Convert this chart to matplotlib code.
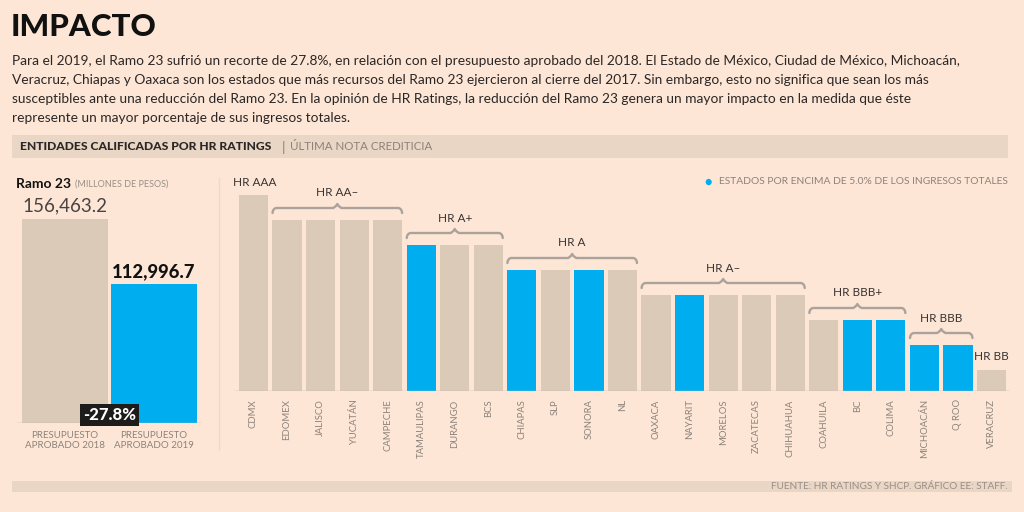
import matplotlib.pyplot as plt
import numpy as np
from matplotlib.patches import Rectangle

# ---------------------------------------------------------------- data

ramo_labels = ["PRESUPUESTO\nAPROBADO 2018", "PRESUPUESTO\nAPROBADO 2019"]
ramo_values = [156463.2, 112996.7]
ramo_change = "-27.8%"

states = ["CDMX", "EDOMEX", "JALISCO", "YUCATÁN", "CAMPECHE",
          "TAMAULIPAS", "DURANGO", "BCS",
          "CHIAPAS", "SLP", "SONORA", "NL",
          "OAXACA", "NAYARIT", "MORELOS", "ZACATECAS", "CHIHUAHUA",
          "COAHUILA", "BC", "COLIMA",
          "MICHOACÁN", "Q ROO",
          "VERACRUZ"]
# rating level shown as bar height (8 = HR AAA ... 1 = HR BB)
levels = [8, 7, 7, 7, 7,
          6, 6, 6,
          5, 5, 5, 5,
          4, 4, 4, 4, 4,
          3, 3, 3,
          2, 2,
          1]
above_5pct = ["TAMAULIPAS", "CHIAPAS", "SONORA", "NAYARIT", "BC", "COLIMA",
              "MICHOACÁN", "Q ROO"]
groups = [("HR AAA", 0, 0), ("HR AA–", 1, 4), ("HR A+", 5, 7), ("HR A", 8, 11),
          ("HR A–", 12, 16), ("HR BBB+", 17, 19), ("HR BBB", 20, 21), ("HR BB", 22, 22)]

# ---------------------------------------------------------------- style

BG = "#FDE6D5"
BEIGE = "#DCCAB9"
BLUE = "#00AEEF"
BAND = "#E9D6C5"
GRAY = "#8C827B"
DARK = "#231F20"
LINE = "#C2B5AA"

plt.rcParams["font.family"] = ["Lato", "DejaVu Sans"]

W, H = 1024, 512
fig = plt.figure(figsize=(W / 100, H / 100), dpi=100, facecolor=BG)


def fx(x):
    return x / W


def fy(y):
    return 1 - y / H


def txt(x, y, s, **kw):
    fig.text(fx(x), fy(y), s, **kw)


# ---------------------------------------------------------------- header

txt(11, 27, "IMPACTO", fontsize=22.5, fontweight="black", color="#111111", va="center")

paragraph = [
    "Para el 2019, el Ramo 23 sufrió un recorte de 27.8%, en relación con el presupuesto aprobado del 2018. "
    "El Estado de México, Ciudad de México, Michoacán,",
    "Veracruz, Chiapas y Oaxaca son los estados que más recursos del Ramo 23 ejercieron al cierre del 2017. "
    "Sin embargo, esto no significa que sean los más",
    "susceptibles ante una reducción del Ramo 23. En la opinión de HR Ratings, la reducción del Ramo 23 "
    "genera un mayor impacto en la medida que éste",
    "represente un mayor porcentaje de sus ingresos totales.",
]
for i, line in enumerate(paragraph):
    txt(12, 61 + i * 19, line, fontsize=9.95, color="#2b2727", va="center")

fig.patches.append(Rectangle((fx(12), fy(158)), fx(996), 23 / H, transform=fig.transFigure,
                             facecolor=BAND, edgecolor="none", zorder=0))
txt(20, 147, "ENTIDADES CALIFICADAS POR HR RATINGS", fontsize=8.7, fontweight="black",
    color="#2b2727", va="center")
txt(282, 147, "|", fontsize=10, color=GRAY, va="center")
txt(290, 147, "ÚLTIMA NOTA CREDITICIA", fontsize=8.3, color=GRAY, va="center")

# footer band
fig.patches.append(Rectangle((fx(12), fy(492)), fx(1000), 11 / H, transform=fig.transFigure,
                             facecolor=BAND, edgecolor="none", zorder=0))
txt(1008, 486.5, "FUENTE: HR RATINGS Y SHCP. GRÁFICO EE: STAFF.", fontsize=7.2, color="#9a8f87",
    ha="right", va="center")

# separator
fig.add_artist(plt.Line2D([fx(219), fx(219)], [fy(178), fy(450)], transform=fig.transFigure,
                          color="#EFD9C8", lw=1))

# ---------------------------------------------------------------- left panel

txt(16, 184, "Ramo 23", fontsize=10, fontweight="bold", color="#111111", va="center")
txt(75, 184, "(MILLONES DE PESOS)", fontsize=6.5, color="#9a8f87", va="center")

axl = fig.add_axes([fx(17), fy(423), fx(185), 233 / H])
axl.set_facecolor("none")
xl = np.arange(len(ramo_values))
axl.bar(xl, ramo_values, width=0.96, color=[BEIGE, BLUE], zorder=2)
axl.set_xlim(-0.54, 1.54)
axl.set_ylim(20000, 175862)
for s in axl.spines.values():
    s.set_visible(False)
axl.axhline(20000, color=LINE, lw=1, zorder=3)
axl.set_yticks([])
axl.set_xticks(xl)
axl.set_xticklabels(ramo_labels, fontsize=7, color=GRAY, linespacing=1.1)
axl.tick_params(axis="x", length=0, pad=6)

axl.annotate(f"{ramo_values[0]:,.1f}", (xl[0], ramo_values[0]), xytext=(0, 3),
             textcoords="offset points", ha="center", va="bottom", fontsize=13.5,
             fontweight="normal", color="#4a4343")
axl.annotate(f"{ramo_values[1]:,.1f}", (xl[1], ramo_values[1]), xytext=(0, 3),
             textcoords="offset points", ha="center", va="bottom", fontsize=13.2,
             fontweight="black", color="#111111")
axl.text(0.5, 20000, ramo_change, ha="center", va="bottom", fontsize=12, fontweight="black",
         color="white", zorder=5,
         bbox=dict(boxstyle="square,pad=0.16", facecolor="#1e1b1b", edgecolor="none"))

# ---------------------------------------------------------------- right panel

axr = fig.add_axes([fx(235), fy(391), fx(775), 216 / H])
axr.set_facecolor("none")
xr = np.arange(len(states))
colors = [BLUE if s in above_5pct else BEIGE for s in states]
axr.bar(xr, levels, width=0.87, color=colors, zorder=2)
axr.set_xlim(-0.55, len(states) - 0.45)
axr.set_ylim(0.16, 8.8)
for s in axr.spines.values():
    s.set_visible(False)
axr.axhline(0.16, color=LINE, lw=1, zorder=3)
axr.set_yticks([])
axr.set_xticks(xr)
axr.set_xticklabels(states, rotation=90, fontsize=6.8, color=GRAY)
axr.tick_params(axis="x", length=0, pad=6)


def brace(ax, x0, x1, y, rise=0.16, drop=0.2):
    xm = (x0 + x1) / 2
    r = 0.12
    t = np.linspace(0, np.pi / 2, 8)
    # left hook
    px = list(x0 + r * (1 - np.cos(t)))
    py = list(y - drop + drop * np.sin(t))
    px += [xm - r, xm - 0.04, xm, xm + 0.04, xm + r]
    py += [y, y + rise * 0.5, y + rise, y + rise * 0.5, y]
    px += list(x1 - r + r * np.sin(t))
    py += list(y - drop * (1 - np.cos(t)))
    ax.plot(px, py, color="#ABA29C", lw=1.7, solid_capstyle="round", zorder=3,
            clip_on=False)


for name, i0, i1 in groups:
    top = levels[i0]
    if name == "HR AAA":
        axr.text(-0.6, top + 0.5, name, ha="left", va="center", fontsize=8.5, color="#3a3434")
    elif name == "HR BB":
        axr.text(i0 + 0.5, top + 0.52, name, ha="right", va="center", fontsize=8.5,
                 color="#3a3434")
    else:
        brace(axr, i0 - 0.43, i1 + 0.43, top + 0.48)
        axr.text((i0 + i1) / 2, top + 1.08, name, ha="center", va="center", fontsize=8.5,
                 color="#3a3434")

# legend
txt(708, 182, "●", fontsize=9, color=BLUE, ha="center", va="center")
txt(1008, 182, "ESTADOS POR ENCIMA DE 5.0% DE LOS INGRESOS TOTALES", fontsize=7.4,
    color=GRAY, ha="right", va="center")

fig.savefig("out.png", dpi=100, facecolor=BG)
